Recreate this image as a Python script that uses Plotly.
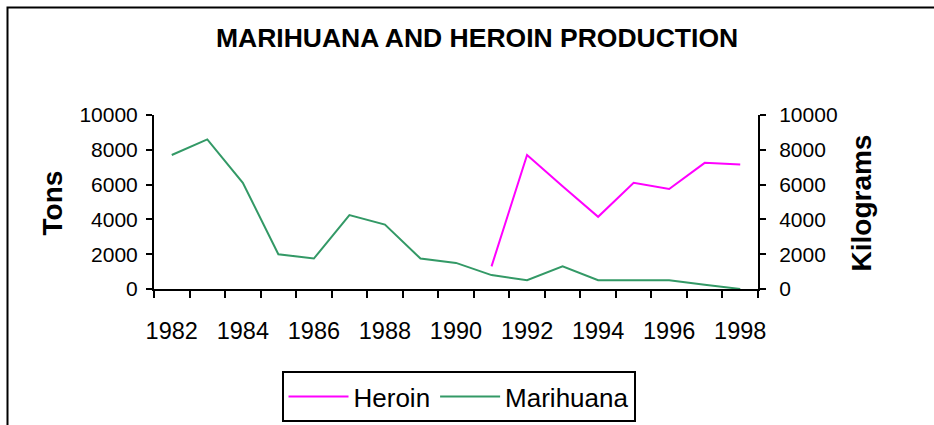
import plotly.graph_objects as go

years = list(range(1982, 1999))
marihuana_tons = [7700, 8600, 6100, 2000, 1750, 4250, 3700, 1750, 1500, 800, 500, 1300, 500, 500, 500, 250, 0]
heroin_years = list(range(1991, 1999))
heroin_kg = [1300, 7700, 5900, 4150, 6100, 5750, 7250, 7150]
x_tick_labels = [str(y) for y in range(1982, 1999, 2)]
y_ticks = [0, 2000, 4000, 6000, 8000, 10000]
y_tick_labels = [str(v) for v in y_ticks]

FONT = "Liberation Sans, Arial, sans-serif"
W, H = 934, 425
L, R, T, B = 154, 176, 115, 136
PW, PH = W - L - R, H - T - B


def px_x(px):
    return (px - L) / PW


def px_y(py):
    return (H - B - py) / PH


fig = go.Figure()
fig.add_trace(go.Scatter(x=heroin_years, y=heroin_kg, name="Heroin", mode="lines",
                         line=dict(color="#FF00FF", width=2), yaxis="y2"))
fig.add_trace(go.Scatter(x=years, y=marihuana_tons, name="Marihuana", mode="lines",
                         line=dict(color="#339966", width=2), yaxis="y"))

fig.update_layout(
    width=W, height=H,
    margin=dict(l=L, r=R, t=T, b=B, pad=0, autoexpand=False),
    paper_bgcolor="white", plot_bgcolor="white",
    font=dict(family=FONT, color="black"),
    showlegend=True,
    legend=dict(orientation="h", x=px_x(458.5), xanchor="center", y=px_y(371), yanchor="top",
                bordercolor="black", borderwidth=2, font=dict(size=26, family=FONT),
                bgcolor="white", traceorder="normal", itemwidth=60),
    xaxis=dict(range=[1981.5, 1998.5], tickvals=list(range(1982, 1999, 2)), ticktext=x_tick_labels,
               ticks="", showgrid=False, zeroline=False, showline=True, linecolor="black", linewidth=2,
               tickfont=dict(size=23.5, family=FONT), ticklabelstandoff=20,
               minor=dict(tick0=1981.5, dtick=1, ticks="outside", ticklen=7, tickwidth=2,
                          tickcolor="black", showgrid=False)),
    yaxis=dict(range=[0, 10000], tickvals=y_ticks, ticktext=y_tick_labels, ticks="outside", ticklen=6,
               tickwidth=2, tickcolor="black", showgrid=False, zeroline=False, showline=True,
               linecolor="black", linewidth=2, tickfont=dict(size=21, family=FONT),
               ticklabelstandoff=4),
    yaxis2=dict(range=[0, 10000], tickvals=y_ticks, ticktext=y_tick_labels, ticks="outside", ticklen=6,
                tickwidth=2, tickcolor="black", showgrid=False, zeroline=False, showline=True,
                linecolor="black", linewidth=2, tickfont=dict(size=21, family=FONT),
                ticklabelstandoff=9, overlaying="y", side="right"),
)

fig.add_annotation(text="<b>MARIHUANA AND HEROIN PRODUCTION</b>", x=px_x(477), y=px_y(38),
                   xref="paper", yref="paper", showarrow=False, xanchor="center", yanchor="middle",
                   font=dict(size=26.5, family=FONT))
fig.add_annotation(text="<b>Tons</b>", x=px_x(52), y=px_y(203.5), textangle=-90,
                   xref="paper", yref="paper", showarrow=False, xanchor="center", yanchor="middle",
                   font=dict(size=28, family=FONT))
fig.add_annotation(text="<b>Kilograms</b>", x=px_x(861), y=px_y(203.5), textangle=-90,
                   xref="paper", yref="paper", showarrow=False, xanchor="center", yanchor="middle",
                   font=dict(size=28, family=FONT))

fig.add_shape(type="rect", xref="paper", yref="paper",
              x0=px_x(7.5), y0=px_y(440), x1=px_x(950), y1=px_y(7.5),
              line=dict(color="black", width=2), fillcolor="rgba(0,0,0,0)", layer="below")

fig.write_html("out.html", post_script="document.body.style.margin='0px';",
               config={"displayModeBar": False})
